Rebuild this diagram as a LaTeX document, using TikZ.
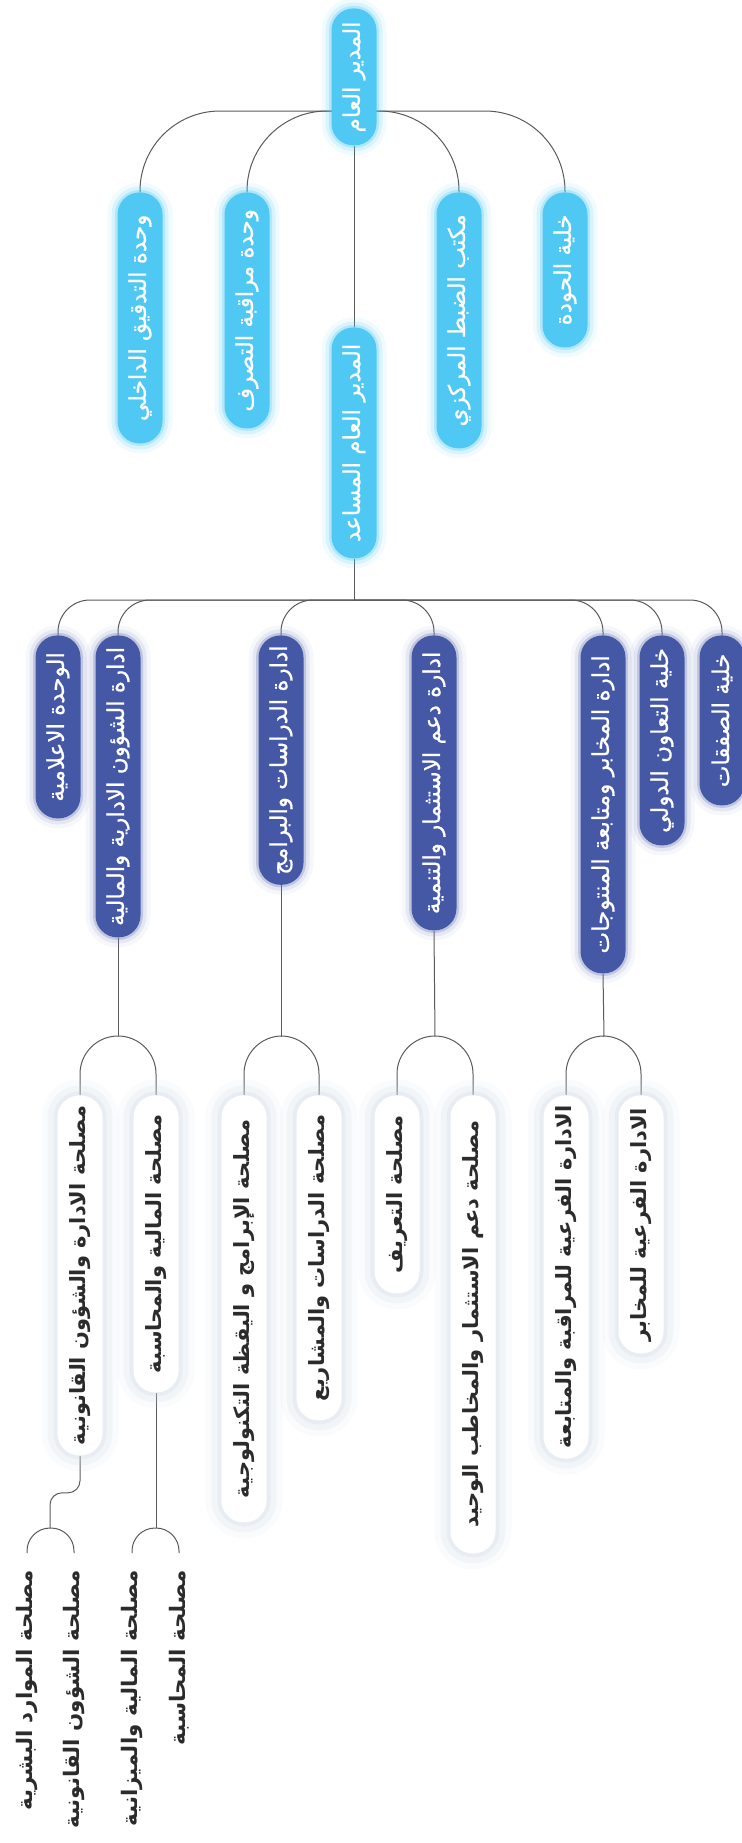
\documentclass[tikz,border=0pt]{standalone}
\usepackage{fontspec}
\newfontfamily\arabicfont[Script=Arabic]{DejaVu Sans}
\newfontfamily\arabicsemi[Script=Arabic, FakeBold=0.8]{DejaVu Sans}
\TeXXeTstate=1
\usetikzlibrary{backgrounds}

\definecolor{skyblue}{HTML}{4FC9F3}
\definecolor{navyblue}{HTML}{4558A6}
\definecolor{inkgray}{HTML}{2B2B2B}
\definecolor{linegray}{HTML}{5A5A5A}
\definecolor{haze}{HTML}{C9D5E2}

\tikzset{
  pill/.style={rotate=90, rounded corners=11pt, minimum height=22.5pt,
    inner xsep=5pt, inner ysep=0pt, anchor=east,
    font=\arabicsemi\fontsize{11.5}{13}\selectfont},
  toppill/.style={pill, fill=skyblue, text=white,
    preaction={draw=skyblue, line width=10pt, opacity=.08},
    preaction={draw=skyblue, line width=6pt, opacity=.15},
    preaction={draw=skyblue, line width=2.5pt, opacity=.3}},
  deptpill/.style={pill, fill=navyblue, text=white,
    preaction={draw=navyblue!70, line width=10pt, opacity=.07},
    preaction={draw=navyblue!70, line width=6pt, opacity=.14},
    preaction={draw=navyblue!80, line width=2.5pt, opacity=.3}},
  servpill/.style={pill, fill=white, text=inkgray,
    font=\arabicfont\bfseries\fontsize{10.5}{12}\selectfont,
    preaction={draw=haze, line width=16pt, opacity=.10},
    preaction={draw=haze, line width=10pt, opacity=.15},
    preaction={draw=haze, line width=4pt, opacity=.25}},
  leaftext/.style={rotate=90, anchor=east, inner xsep=8.5pt, inner ysep=0pt,
    text=inkgray, font=\arabicfont\bfseries\fontsize{10.7}{12}\selectfont},
  link/.style={draw=linegray, line width=0.5pt}
}

\begin{document}
\begin{tikzpicture}[x=0.5pt, y=-0.5pt]
\useasboundingbox (0,0) rectangle (742,1843);

% general manager and his units
\node[toppill, minimum width=68.5pt] (gm) at (354,8) {\beginR المدير العام\endR};
\node[toppill, minimum width=125.5pt] (tadqiq) at (140,192) {\beginR وحدة التدقيق الداخلي\endR};
\node[toppill, minimum width=118pt] (muraqaba) at (247,192) {\beginR وحدة مراقبة التصرف\endR};
\node[toppill, minimum width=128pt] (dabt) at (459,192) {\beginR مكتب الضبط المركزي\endR};
\node[toppill, minimum width=77.5pt] (jawda) at (565,192) {\beginR خلية الحودة\endR};
\node[toppill, minimum width=115.5pt] (agm) at (354,327) {\beginR المدير العام المساعد\endR};

% departments
\node[deptpill, minimum width=91.5pt] (ilam) at (58,635) {\beginR الوحدة الاعلامية\endR};
\node[deptpill, minimum width=151pt] (shuun) at (118,635) {\beginR ادارة الشؤون الادارية والمالية\endR};
\node[deptpill, minimum width=121.5pt] (dirasat) at (281,635) {\beginR ادارة الدراسات والبرامج\endR};
\node[deptpill, minimum width=147.5pt] (istithmar) at (434,635) {\beginR ادارة دعم الاستثمار والتنمية\endR};
\node[deptpill, minimum width=169pt] (makhabir) at (603,635) {\beginR ادارة المخابر ومتابعة المنتوجات\endR};
\node[deptpill, minimum width=105pt] (taawun) at (662,635) {\beginR خلية التعاون الدولي\endR};
\node[deptpill, minimum width=85pt] (safaqat) at (722,635) {\beginR خلية الصفقات\endR};

% services
\node[servpill, minimum width=180pt] (sidara) at (80,1095) {\beginR مصلحة الادارة والشؤون القانونية\endR};
\node[servpill, minimum width=148.5pt] (smaliya) at (156,1095) {\beginR مصلحة المالية والمحاسبة\endR};
\node[servpill, minimum width=213.5pt] (sbaramij) at (244,1095) {\beginR مصلحة الإبرامج و اليقظة التكنولوجية\endR};
\node[servpill, minimum width=162.5pt] (sdirasat) at (319,1095) {\beginR مصلحة الدراسات والمشاريع\endR};
\node[servpill, minimum width=99pt] (staarif) at (397,1095) {\beginR مصلحة التعريف\endR};
\node[servpill, minimum width=229pt] (sdaam) at (473,1095) {\beginR مصلحة دعم الاستثمار والمخاطب الوحيد\endR};
\node[servpill, minimum width=180pt] (fmuraqaba) at (566,1095) {\beginR الادارة الفرعية للمراقبة والمتابعة\endR};
\node[servpill, minimum width=129pt] (fmakhabir) at (641,1095) {\beginR الادارة الفرعية للمخابر\endR};

% sub-services
\node[leaftext] (mawarid) at (27,1553) {\beginR مصلحة الموارد البشرية\endR};
\node[leaftext] (qanuniya) at (74,1553) {\beginR مصلحة الشؤون القانونية\endR};
\node[leaftext] (mizaniya) at (132,1553) {\beginR مصلحة المالية والميزانية\endR};
\node[leaftext] (muhasaba) at (179,1553) {\beginR مصلحة المحاسبة\endR};

\begin{scope}[on background layer]
  \coordinate (gmhub) at (354,111);
  \coordinate (agmhub) at (354,600);
  \coordinate (shuunhub) at (118,1036);
  \coordinate (dirasathub) at (281,1036);
  \coordinate (istithmarhub) at (435,1036);
  \coordinate (makhabirhub) at (604,1036);
  \coordinate (idarahub) at (50,1528);
  \coordinate (maliyahub) at (156,1528);

  \draw[link] (gm.west) -- (agm.east);
  \foreach \u in {tadqiq,muraqaba,dabt,jawda}
    \draw[link, rounded corners=40pt] (gmhub) -| (\u.east);

  \draw[link] (agm.west) -- (agmhub);
  \foreach \u in {ilam,shuun,dirasat,istithmar,makhabir,taawun,safaqat}
    \draw[link, rounded corners=16pt] (agmhub) -| (\u.east);

  \draw[link] (shuun.west) -- (shuunhub);
  \draw[link] (dirasat.west) -- (dirasathub);
  \draw[link] (istithmar.west) -- (istithmarhub);
  \draw[link] (makhabir.west) -- (makhabirhub);
  \foreach \h/\u in {shuunhub/sidara,shuunhub/smaliya,dirasathub/sbaramij,dirasathub/sdirasat,
    istithmarhub/staarif,istithmarhub/sdaam,makhabirhub/fmuraqaba,makhabirhub/fmakhabir}
    \draw[link, rounded corners=19pt] (\h) -| (\u.east);

  \draw[link, rounded corners=6pt] (sidara.west) -- ++(0,37) -| (idarahub);
  \draw[link] (smaliya.west) -- (maliyahub);
  \foreach \h/\u in {idarahub/mawarid,idarahub/qanuniya,maliyahub/mizaniya,maliyahub/muhasaba}
    \draw[link, rounded corners=11.5pt] (\h) -| (\u.east);
\end{scope}
\end{tikzpicture}
\end{document}
